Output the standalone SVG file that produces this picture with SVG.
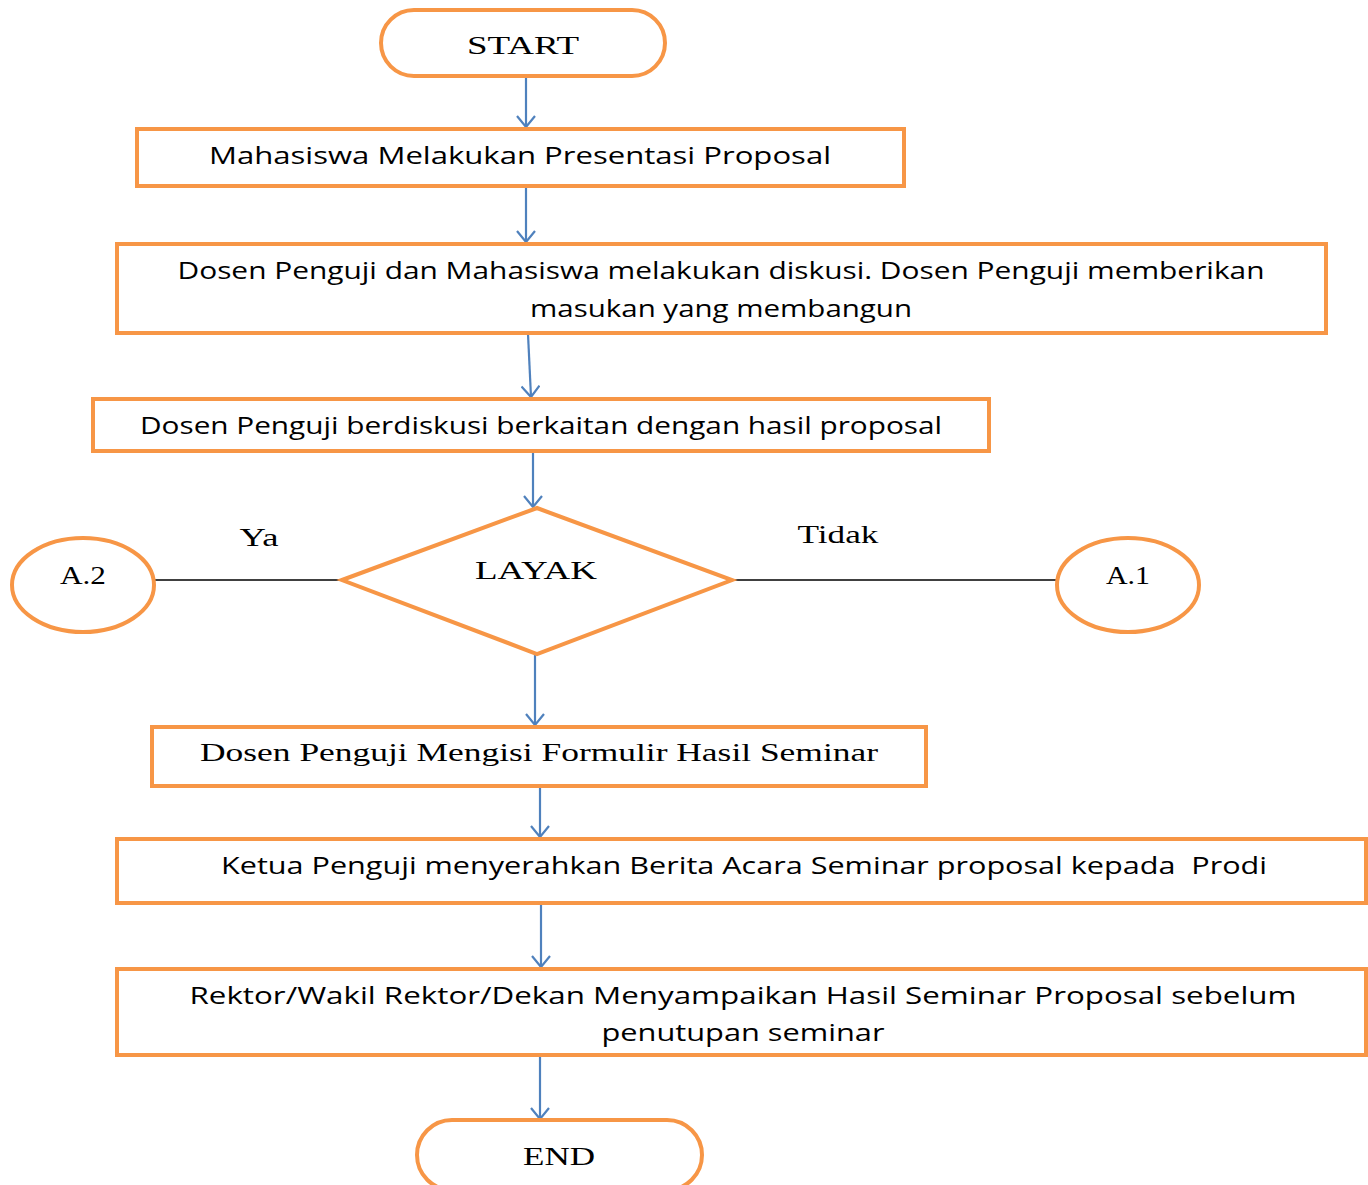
<svg xmlns="http://www.w3.org/2000/svg" width="1368" height="1185" viewBox="0 0 1368 1185">
<defs>
<style>
.shape{fill:#fff;stroke:#F79646;stroke-width:4}
.conn{stroke:#4F81BD;stroke-width:2.2;fill:none}
.line{stroke:#000;stroke-width:1.6;fill:none}
.sans{font-family:"Open Sans","Liberation Sans",sans-serif;font-size:23px;fill:#000;white-space:pre}
.serif{font-family:"Liberation Serif","DejaVu Serif",serif;font-size:26px;fill:#000}
</style>
<marker id="arr" viewBox="0 0 20 20" refX="18" refY="10" markerWidth="20" markerHeight="20" markerUnits="userSpaceOnUse" orient="auto">
<path d="M7,1 L18,10 L7,19" fill="none" stroke="#4F81BD" stroke-width="2.2"/>
</marker>
</defs>
<rect width="1368" height="1185" fill="#fff"/>
<g id="connectors">
<line class="conn" x1="526" y1="77" x2="526" y2="127" marker-end="url(#arr)"/>
<line class="conn" x1="526" y1="187" x2="526" y2="242" marker-end="url(#arr)"/>
<line class="conn" x1="528" y1="334" x2="531" y2="397" marker-end="url(#arr)"/>
<line class="conn" x1="533" y1="452" x2="533" y2="507" marker-end="url(#arr)"/>
<line class="conn" x1="535" y1="655" x2="535" y2="725" marker-end="url(#arr)"/>
<line class="conn" x1="540" y1="787" x2="540" y2="837" marker-end="url(#arr)"/>
<line class="conn" x1="541" y1="905" x2="541" y2="967" marker-end="url(#arr)"/>
<line class="conn" x1="540" y1="1057" x2="540" y2="1119" marker-end="url(#arr)"/>
<line class="line" x1="155" y1="580" x2="342" y2="580"/>
<line class="line" x1="733" y1="580" x2="1057" y2="580"/>
<text class="serif" x="259" y="546" text-anchor="middle" textLength="39" lengthAdjust="spacingAndGlyphs">Ya</text>
<text class="serif" x="838" y="543" text-anchor="middle" textLength="81" lengthAdjust="spacingAndGlyphs">Tidak</text>
</g>
<g id="start">
<rect class="shape" x="381" y="10" width="284" height="66" rx="33"/>
<text class="serif" x="523" y="54" text-anchor="middle" textLength="112" lengthAdjust="spacingAndGlyphs">START</text>
</g>
<g id="box1">
<rect class="shape" x="137" y="129" width="767" height="57"/>
<text class="sans" x="520" y="164" text-anchor="middle" textLength="622" lengthAdjust="spacingAndGlyphs">Mahasiswa Melakukan Presentasi Proposal</text>
</g>
<g id="box2">
<rect class="shape" x="117" y="244" width="1209" height="89"/>
<text class="sans" x="721" y="279" text-anchor="middle" textLength="1087" lengthAdjust="spacingAndGlyphs">Dosen Penguji dan Mahasiswa melakukan diskusi. Dosen Penguji memberikan</text>
<text class="sans" x="721" y="317" text-anchor="middle" textLength="382" lengthAdjust="spacingAndGlyphs">masukan yang membangun</text>
</g>
<g id="box3">
<rect class="shape" x="93" y="399" width="896" height="52"/>
<text class="sans" x="541" y="434" text-anchor="middle" textLength="802" lengthAdjust="spacingAndGlyphs">Dosen Penguji berdiskusi berkaitan dengan hasil proposal</text>
</g>
<g id="decision">
<polygon class="shape" points="342,580 537,508 732,580 537,654"/>
<text class="serif" x="536" y="579" text-anchor="middle" textLength="122" lengthAdjust="spacingAndGlyphs">LAYAK</text>
</g>
<g id="a2">
<ellipse class="shape" cx="83" cy="585" rx="71" ry="47"/>
<text class="serif" x="83" y="584" text-anchor="middle" textLength="46" lengthAdjust="spacingAndGlyphs">A.2</text>
</g>
<g id="a1">
<ellipse class="shape" cx="1128" cy="585" rx="71" ry="47"/>
<text class="serif" x="1128" y="584" text-anchor="middle" textLength="44" lengthAdjust="spacingAndGlyphs">A.1</text>
</g>
<g id="box4">
<rect class="shape" x="152" y="727" width="774" height="59"/>
<text class="serif" x="539" y="761" text-anchor="middle" textLength="678" lengthAdjust="spacingAndGlyphs">Dosen Penguji Mengisi Formulir Hasil Seminar</text>
</g>
<g id="box5">
<rect class="shape" x="117" y="839" width="1249" height="64"/>
<text class="sans" x="744" y="874" text-anchor="middle" textLength="1046" lengthAdjust="spacingAndGlyphs">Ketua Penguji menyerahkan Berita Acara Seminar proposal kepada  Prodi</text>
</g>
<g id="box6">
<rect class="shape" x="117" y="969" width="1249" height="86"/>
<text class="sans" x="743" y="1004" text-anchor="middle" textLength="1107" lengthAdjust="spacingAndGlyphs">Rektor/Wakil Rektor/Dekan Menyampaikan Hasil Seminar Proposal sebelum</text>
<text class="sans" x="743" y="1041" text-anchor="middle" textLength="283" lengthAdjust="spacingAndGlyphs">penutupan seminar</text>
</g>
<g id="end">
<rect class="shape" x="417" y="1120" width="285" height="70" rx="35"/>
<text class="serif" x="559" y="1165" text-anchor="middle" textLength="72" lengthAdjust="spacingAndGlyphs">END</text>
</g>
</svg>
